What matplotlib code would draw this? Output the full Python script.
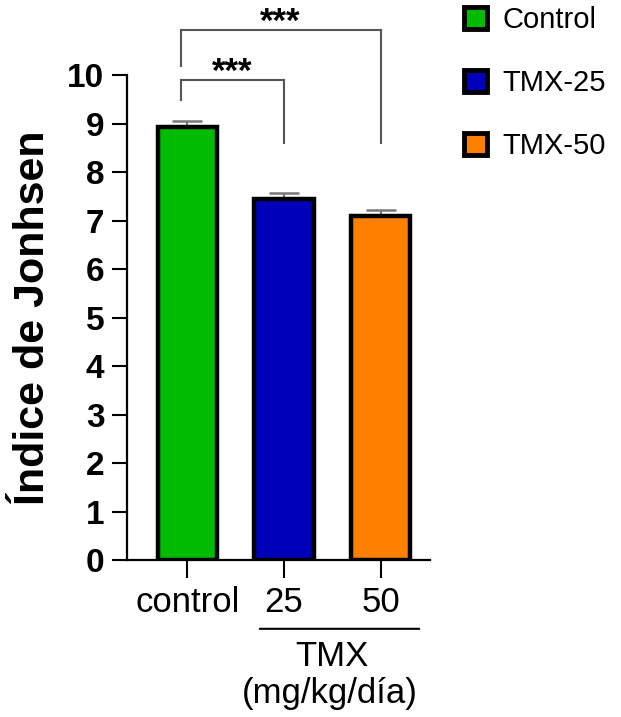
import matplotlib

matplotlib.use("Agg")
import matplotlib.pyplot as plt  # noqa: E402
from matplotlib.patches import Patch  # noqa: E402

plt.rcParams["font.family"] = ["Liberation Sans", "DejaVu Sans"]

groups = ["control", "25", "50"]
legend_labels = ["Control", "TMX-25", "TMX-50"]
values = [8.93, 7.44, 7.09]
errors = [0.12, 0.13, 0.13]
colors = ["#00bb00", "#0000bb", "#ff8000"]
y_ticks = list(range(0, 11))
# significance brackets: (left group, right group, bracket top, left leg bottom, label)
comparisons = [(0, 1, 9.9, 9.48, "***"), (0, 2, 10.93, 10.19, "***")]
bracket_foot = 8.6

fig = plt.figure(figsize=(6.21, 7.17), dpi=100)
ax = fig.add_axes([0.204, 0.219, 0.488, 0.676])

x = list(range(len(groups)))
ax.bar(x, values, width=0.62, color=colors, edgecolor="black", linewidth=3.2, zorder=2)
ax.errorbar(x, values, yerr=[[0] * 3, errors], fmt="none", ecolor="#777777",
            elinewidth=1.5, capsize=11, capthick=1.8, zorder=1)

ax.set_xlim(-0.63, 2.51)
ax.set_ylim(0, 10)
ax.set_yticks(y_ticks)
ax.set_yticklabels([str(t) for t in y_ticks], fontsize=24, fontweight="bold")
ax.set_xticks(x)
ax.set_xticklabels(groups, fontsize=25)
ax.tick_params(axis="y", length=11, width=1.5, pad=5)
ax.tick_params(axis="x", length=13, width=1.5, pad=6)
for side in ["top", "right"]:
    ax.spines[side].set_visible(False)
for side in ["left", "bottom"]:
    ax.spines[side].set_linewidth(1.6)
ax.set_ylabel("Índice de Jonhsen", fontsize=31, fontweight="bold", labelpad=10)

# significance brackets
for i, j, top, leg, label in comparisons:
    xl = x[i] - 0.07
    ax.plot([xl, xl], [leg, top], color="#555555", lw=1.5, clip_on=False)
    ax.plot([xl, x[j]], [top, top], color="#555555", lw=1.5, clip_on=False)
    ax.plot([x[j], x[j]], [top, bracket_foot], color="#555555", lw=1.5, clip_on=False)
    ax.text((xl + x[j]) / 2, top - 0.04, label, ha="center", va="baseline",
            fontsize=25, fontweight="bold", clip_on=False)

# TMX group line and label
ax.annotate("", xy=(0.72, -1.42), xytext=(2.43, -1.42), xycoords="data",
            arrowprops=dict(arrowstyle="-", lw=1.5, color="black"), annotation_clip=False)
ax.text(1.5, -1.65, "TMX", ha="center", va="top", fontsize=25, clip_on=False)
ax.text(1.47, -2.42, "(mg/kg/día)", ha="center", va="top", fontsize=25, clip_on=False)

handles = [Patch(facecolor=c, edgecolor="black", linewidth=3.5) for c in colors]
fig.legend(handles, legend_labels, loc="upper left", bbox_to_anchor=(0.738, 1.0),
           frameon=False, fontsize=21, handlelength=0.8, handleheight=0.8,
           handletextpad=0.5, labelspacing=1.2, borderpad=0.2, borderaxespad=0)

fig.savefig("out.png", dpi=100)
